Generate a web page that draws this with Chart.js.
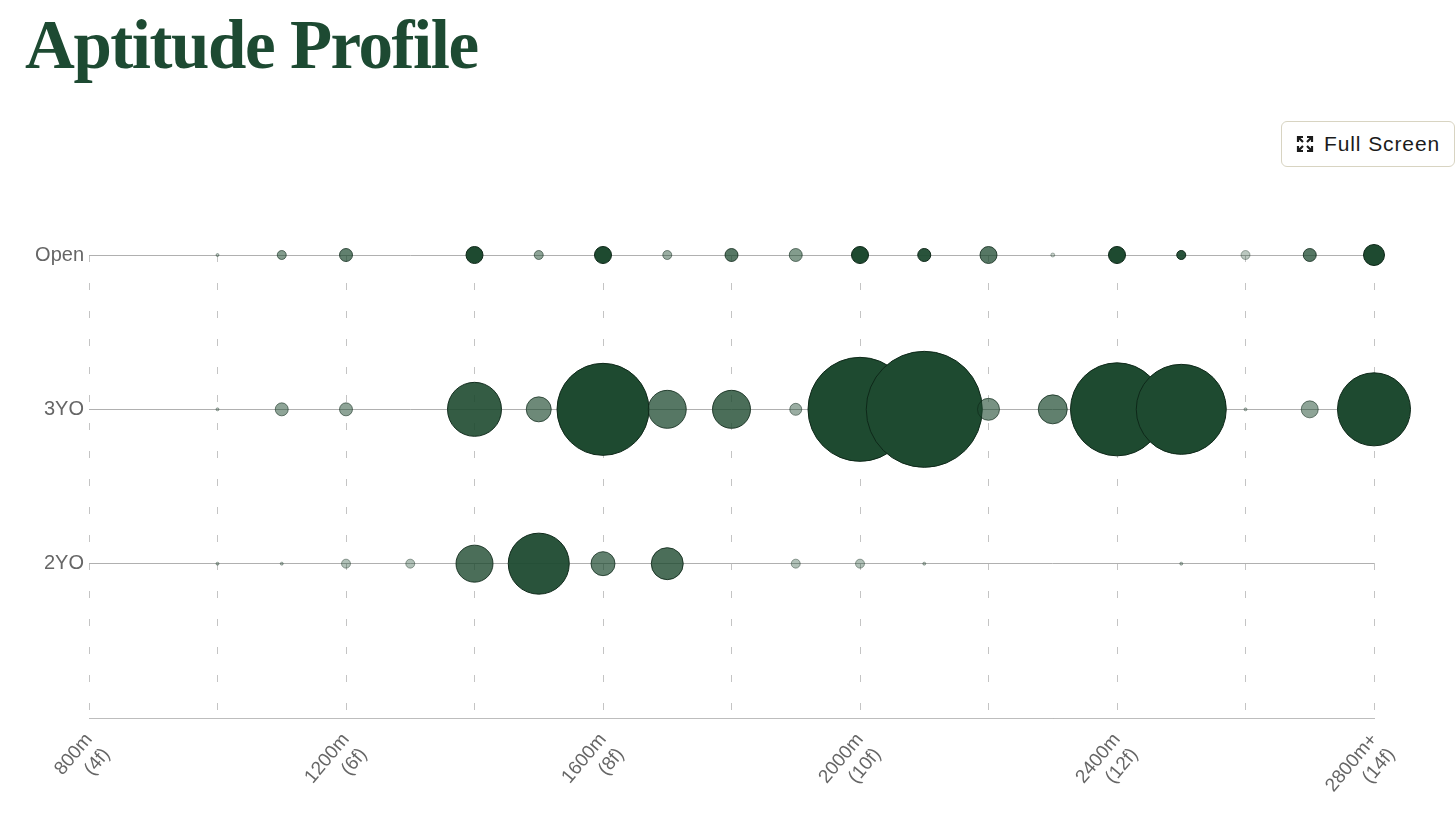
<!DOCTYPE html>
<html>
<head>
<meta charset="utf-8">
<script src="https://cdn.jsdelivr.net/npm/chart.js@4"></script>
<style>
  body { margin: 0; background: #fff; width: 1455px; height: 840px; overflow: hidden; position: relative; }
  h1 {
    position: absolute; left: 25px; top: 10px; margin: 0;
    font-family: "Liberation Serif", serif; font-weight: bold;
    font-size: 69px; line-height: 70px; letter-spacing: -1.45px; color: #1d4a32;
  }
  .fs {
    position: absolute; left: 1281px; top: 121px; width: 174px; height: 46px;
    border: 1px solid #d8d4c2; border-radius: 6px; background: #fff;
    font-family: "Liberation Sans", Arial, sans-serif; font-size: 21px; letter-spacing: 0.9px;
    color: #1b1b1b; display: flex; align-items: center; box-sizing: border-box; padding-left: 14px;
  }
  .fs svg { margin-right: 10px; }
  #wrap { position: absolute; left: 0; top: 0; width: 1455px; height: 840px; }
</style>
</head>
<body>
<h1>Aptitude Profile</h1>
<div class="fs">
  <svg width="18" height="18" viewBox="0 0 18 18" fill="none" stroke="#1b1b1b" stroke-width="2.2">
    <path d="M2 7V2h5M2 2l5 5"/>
    <path d="M16 7V2h-5M16 2l-5 5"/>
    <path d="M2 11v5h5M2 16l5-5"/>
    <path d="M16 11v5h-5M16 16l-5-5"/>
  </svg>
  <span>Full Screen</span>
</div>
<div id="wrap"><canvas id="aptitude"></canvas></div>
<script>
// distances (m), one column per 100m
var distances = [1000, 1100, 1200, 1300, 1400, 1500, 1600, 1700, 1800, 1900, 2000, 2100, 2200, 2300, 2400, 2500, 2600, 2700, 2800];
var rowNames = ['', '2YO', '3YO', 'Open'];

// bubble size per distance
var openSize = [1.5, 4.5, 6.5, null, 8.5, 4.5, 8.5, 4.5, 6.5, 6.5, 8.5, 6.5, 8.5, 2, 8.5, 4.5, 4.5, 6.5, 10.5];
var threeSize = [1.5, 6.5, 6.5, null, 27, 12.5, 46, 19, 19, 6, 52, 58, 11, 14.5, 46.5, 45, 1.5, 8.5, 36.5];
var twoSize = [1.5, 1.5, 4.5, 4.5, 18.5, 30.5, 12, 16, null, 4.5, 4.5, 1.5, null, null, null, 1.5, null, null, null];

// strength per distance (shade)
var openStrength = [0.3, 0.55, 0.7, null, 1, 0.5, 1, 0.45, 0.75, 0.55, 1, 0.95, 0.75, 0.25, 1, 0.95, 0.3, 0.75, 1];
var threeStrength = [0.3, 0.5, 0.5, null, 0.9, 0.65, 1, 0.75, 0.8, 0.45, 1, 1, 0.6, 0.7, 1, 1, 0.3, 0.5, 1];
var twoStrength = [0.3, 0.3, 0.35, 0.35, 0.8, 0.95, 0.7, 0.8, null, 0.35, 0.35, 0.3, null, null, null, 0.3, null, null, null];

var tickDistances = [800, 1200, 1600, 2000, 2400, 2800];
var tickLabels = [['800m', '(4f)'], ['1200m', '(6f)'], ['1600m', '(8f)'], ['2000m', '(10f)'], ['2400m', '(12f)'], ['2800m+', '(14f)']];

function points(row, sizes, strengths) {
  var out = [];
  distances.forEach(function (d, i) {
    if (sizes[i] != null) out.push({ x: d, y: row, r: sizes[i], s: strengths[i] });
  });
  return out;
}

function fill(ctx) {
  var s = ctx.raw ? ctx.raw.s : 1;
  return 'rgba(30,74,48,' + s + ')';
}
function edge(ctx) {
  var s = ctx.raw ? ctx.raw.s : 1;
  return 'rgba(14,40,25,' + Math.min(1, s + 0.05) + ')';
}

var ds = function (label, data) {
  return { label: label, data: data, backgroundColor: fill, borderColor: edge, borderWidth: 1, clip: false };
};

var ctx = document.getElementById('aptitude');
var myChart = new Chart(ctx, {
  type: 'bubble',
  data: {
    datasets: [
      ds('Open', points(3, openSize, openStrength)),
      ds('3YO', points(2, threeSize, threeStrength)),
      ds('2YO', points(1, twoSize, twoStrength))
    ]
  },
  options: {
    responsive: true,
    maintainAspectRatio: false,
    animation: false,
    layout: { padding: { top: 255, right: 81, left: 0, bottom: 0 } },
    plugins: { legend: { display: false }, tooltip: { enabled: false } },
    scales: {
      x: {
        type: 'linear', min: 800, max: 2800,
        afterFit: function (scale) { scale.height = 122; },
        border: { display: true, color: '#bdbdbd', dash: [7, 21] },
        grid: { color: '#c4c4c4', tickColor: 'transparent', tickLength: 8 },
        ticks: {
          stepSize: 200, autoSkip: false, minRotation: 50, maxRotation: 50,
          color: '#666', font: { family: 'Liberation Sans', size: 19 }, padding: 3,
          callback: function (v) {
            var i = tickDistances.indexOf(v);
            return i >= 0 ? tickLabels[i] : '';
          }
        }
      },
      y: {
        type: 'linear', min: 0, max: 3,
        afterFit: function (scale) { scale.width = 89; },
        border: { display: false },
        grid: { color: '#b0b0b0', drawTicks: false },
        ticks: {
          stepSize: 1, color: '#666', padding: 5,
          font: { family: 'Liberation Sans', size: 20 },
          callback: function (v) { return rowNames[v] || ''; }
        }
      }
    }
  }
});
</script>
</body>
</html>
